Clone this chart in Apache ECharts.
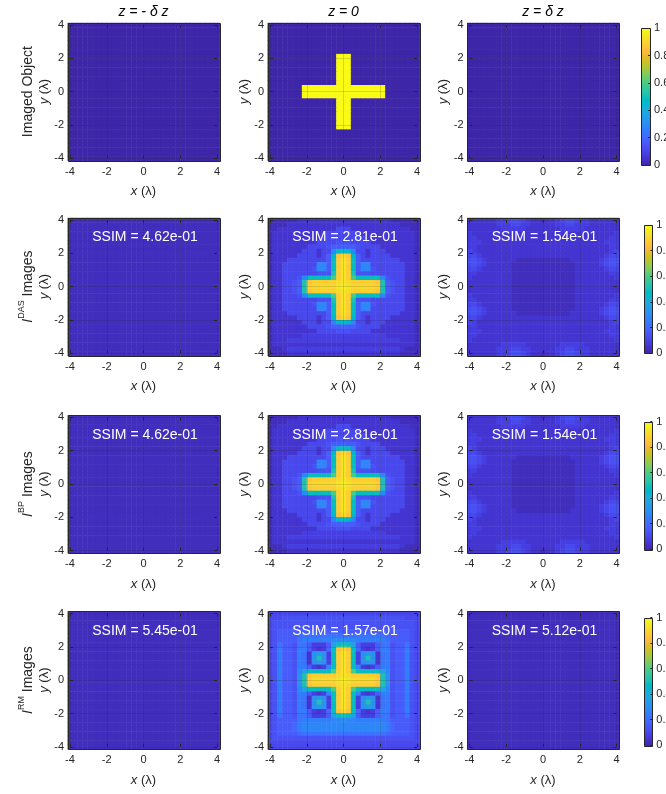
<!DOCTYPE html>
<html><head><meta charset="utf-8">
<script src="https://cdn.jsdelivr.net/npm/echarts@6.0.0/dist/echarts.min.js"></script>
<style>html,body{margin:0;padding:0;background:#fff;}#chart{width:666px;height:794px;}</style>
</head><body><div id="chart"></div>
<script>
// ---------------- DATA ----------------
const columnTitles = ['z = - δ z', 'z = 0', 'z = δ z'];
const rowLabelSup = [null, 'DAS', 'BP', 'RM'];
const ssimLabels = [
  [null, null, null],
  ['SSIM = 4.62e-01', 'SSIM = 2.81e-01', 'SSIM = 1.54e-01'],
  ['SSIM = 4.62e-01', 'SSIM = 2.81e-01', 'SSIM = 1.54e-01'],
  ['SSIM = 5.45e-01', 'SSIM = 1.57e-01', 'SSIM = 5.12e-01']
];
const axisTickValues = [-4, -2, 0, 2, 4];
const colorbarTicks = [0, 0.2, 0.4, 0.6, 0.8, 1];
// image rows, top (y=4) to bottom (y=-4); each char = level 0..z (base36) / 35
const objMinus = [
'0000000000000000000000000000000','0000000000000000000000000000000','0000000000000000000000000000000','0000000000000000000000000000000',
'0000000000000000000000000000000','0000000000000000000000000000000','0000000000000000000000000000000','0000000000000000000000000000000',
'0000000000000000000000000000000','0000000000000000000000000000000','0000000000000000000000000000000','0000000000000000000000000000000',
'0000000000000000000000000000000','0000000000000000000000000000000','0000000000000000000000000000000','0000000000000000000000000000000',
'0000000000000000000000000000000','0000000000000000000000000000000','0000000000000000000000000000000','0000000000000000000000000000000',
'0000000000000000000000000000000','0000000000000000000000000000000','0000000000000000000000000000000','0000000000000000000000000000000',
'0000000000000000000000000000000','0000000000000000000000000000000','0000000000000000000000000000000','0000000000000000000000000000000',
'0000000000000000000000000000000','0000000000000000000000000000000','0000000000000000000000000000000'];
const objZero = [
'0000000000000000000000000000000','0000000000000000000000000000000','0000000000000000000000000000000','0000000000000000000000000000000',
'0000000000000000000000000000000','0000000000000000000000000000000','0000000000000000000000000000000',
'00000000000000'+'zzz'+'00000000000000','00000000000000'+'zzz'+'00000000000000','00000000000000'+'zzz'+'00000000000000',
'00000000000000'+'zzz'+'00000000000000','00000000000000'+'zzz'+'00000000000000','00000000000000'+'zzz'+'00000000000000',
'00000000000000'+'zzz'+'00000000000000',
'0000000'+'zzzzzzzzzzzzzzzzz'+'0000000','0000000'+'zzzzzzzzzzzzzzzzz'+'0000000','0000000'+'zzzzzzzzzzzzzzzzz'+'0000000',
'00000000000000'+'zzz'+'00000000000000','00000000000000'+'zzz'+'00000000000000','00000000000000'+'zzz'+'00000000000000',
'00000000000000'+'zzz'+'00000000000000','00000000000000'+'zzz'+'00000000000000','00000000000000'+'zzz'+'00000000000000',
'00000000000000'+'zzz'+'00000000000000',
'0000000000000000000000000000000','0000000000000000000000000000000','0000000000000000000000000000000','0000000000000000000000000000000',
'0000000000000000000000000000000','0000000000000000000000000000000','0000000000000000000000000000000'];
const objPlus = [
'0000000000000000000000000000000','0000000000000000000000000000000','0000000000000000000000000000000','0000000000000000000000000000000',
'0000000000000000000000000000000','0000000000000000000000000000000','0000000000000000000000000000000','0000000000000000000000000000000',
'0000000000000000000000000000000','0000000000000000000000000000000','0000000000000000000000000000000','0000000000000000000000000000000',
'0000000000000000000000000000000','0000000000000000000000000000000','0000000000000000000000000000000','0000000000000000000000000000000',
'0000000000000000000000000000000','0000000000000000000000000000000','0000000000000000000000000000000','0000000000000000000000000000000',
'0000000000000000000000000000000','0000000000000000000000000000000','0000000000000000000000000000000','0000000000000000000000000000000',
'0000000000000000000000000000000','0000000000000000000000000000000','0000000000000000000000000000000','0000000000000000000000000000000',
'0000000000000000000000000000000','0000000000000000000000000000000','0000000000000000000000000000000'];
const dasMinus = [
'1111111111111111111111111111111','1111111111111111111111111111111','1111111111111111111111111111111','1111111111111111111111111111111',
'1111111111111111111111111111111','1111111111111111111111111111111','1111111111111111111111111111111','1111111111111111111111111111111',
'1111111111111111111111111111111','1111111111111111111111111111111','1111111111111111111111111111111','1111111111111111111111111111111',
'1111111111111111111111111111111','1111111111111111111111111111111','1111111111111111111111111111111','1111111111111111111111111111111',
'1111111111111111111111111111111','1111111111111111111111111111111','1111111111111111111111111111111','1111111111111111111111111111111',
'1111111111111111111111111111111','1111111111111111111111111111111','1111111111111111111111111111111','1111111111111111111111111111111',
'1111111111111111111111111111111','1111111111111111111111111111111','1111111111111111111111111111111','1111111111111111111111111111111',
'1111111111111111111111111111111','1111111111111111111111111111111','1111111111111111111111111111111'];
const dasZero = [
'111111222222222'+'2'+'222222222111111',
'111122222222222'+'2'+'222222222221111',
'112222222222224'+'4'+'422222222222211',
'122222222222444'+'4'+'444222222222221',
'122222222224444'+'4'+'444422222222221',
'122222222244445'+'5'+'544442222222221',
'122222224444566'+'7'+'665444422222221',
'1222222444244ag'+'h'+'ga4424442222221',
'1222224444246gu'+'w'+'ug6424444222221',
'1222444444446hv'+'x'+'vh6444444442221',
'1224444444aa6hv'+'x'+'vh6aa4444444221',
'1224444445aa6hv'+'x'+'vh6aa5444444221',
'1224444444555iv'+'x'+'vi5554444444221',
'1224445ahhhhhlv'+'x'+'vlhhhhha5444221',
'1224456iuvvvvvw'+'x'+'wvvvvvui6544221',
'1224456ivwwwwwx'+'y'+'xwwwwwvi6544221',
'1224456iuvvvvvw'+'x'+'wvvvvvui6544221',
'1224445ahhhhhlv'+'x'+'vlhhhhha5444221',
'1224444444555iv'+'x'+'vi5554444444221',
'1224444445aa6hv'+'x'+'vh6aa5444444221',
'1224444444aa6hv'+'x'+'vh6aa4444444221',
'1222444444446hv'+'x'+'vh6444444442221',
'1222224444246gu'+'w'+'ug6424444222221',
'1222222444244ag'+'h'+'ga4424442222221',
'122222224444566'+'7'+'665444422222221',
'122222222244445'+'5'+'544442222222221',
'122222233333333'+'3'+'333333332222221',
'122233333333333'+'3'+'333333333332221',
'122222222222222'+'2'+'222222222222221',
'111233333333333'+'3'+'333333333332111',
'111122222222222'+'2'+'222222222221111'];
const dasPlus = [
'222222334554322'+'1'+'223455433222222',
'222222333443322'+'2'+'223344333222222',
'222222233333222'+'2'+'222333332222222',
'322222222222222'+'2'+'222222222222223',
'332222222222222'+'2'+'222222222222233',
'333222222222222'+'2'+'222222222222333',
'332222222222222'+'2'+'222222222222233',
'432222222222222'+'2'+'222222222222234',
'443222222222222'+'2'+'222222222222344',
'554322222211111'+'1'+'111112222223455',
'554322222111111'+'1'+'111111222223455',
'443222222111111'+'1'+'111111222222344',
'332222222111111'+'1'+'111111222222233',
'322222222111111'+'1'+'111111222222223',
'222222222111111'+'1'+'111111222222222',
'222222222111111'+'1'+'111111222222222',
'222222222111111'+'1'+'111111222222222',
'322222222111111'+'1'+'111111222222223',
'332222222111111'+'1'+'111111222222233',
'443222222111111'+'1'+'111111222222344',
'554322222111111'+'1'+'111111222223455',
'554322222211111'+'1'+'111112222223455',
'443222222222222'+'2'+'222222222222344',
'432222222222222'+'2'+'222222222222234',
'332222222222222'+'2'+'222222222222233',
'333222222222222'+'2'+'222222222222333',
'332222222222222'+'2'+'222222222222233',
'322222222222222'+'2'+'222222222222223',
'222222233333222'+'2'+'222333332222222',
'222222333443322'+'2'+'223344333222222',
'222222334554322'+'1'+'223455433222222'];
// BP reconstruction looks identical to DAS in the figure
const bpMinus = dasMinus;
const bpZero = dasZero;
const bpPlus = dasPlus;
const rmMinus = dasMinus.slice();
const rmZero = [
'444444444444444'+'4'+'444444444444444',
'444555555555555'+'5'+'555555555555444',
'455555555555555'+'5'+'555555555555554',
'455555555555555'+'5'+'555555555555554',
'456666666666666'+'6'+'666666666666654',
'456666788888888'+'8'+'888888887666654',
'4566668999999aa'+'b'+'aa9999998666654',
'4586658863336dh'+'i'+'hd6333688566854',
'4596659963237hu'+'w'+'uh7323699566954',
'459665982bcb3hv'+'x'+'vh3bcb289566954',
'459665982bib3hv'+'x'+'vh3bib289566954',
'459665982bcb3hv'+'x'+'vh3bcb289566954',
'459665996323ahv'+'x'+'vha323699566954',
'459665adhhhhhlv'+'x'+'vlhhhhhda566954',
'459665biuvvvvvw'+'x'+'wvvvvvuib566954',
'459665bivwwwwwx'+'y'+'xwwwwwvib566954',
'459665biuvvvvvw'+'x'+'wvvvvvuib566954',
'459665adhhhhhlv'+'x'+'vlhhhhhda566954',
'459665996323ahv'+'x'+'vha323699566954',
'459665982bcb3hv'+'x'+'vh3bcb289566954',
'459665982bib3hv'+'x'+'vh3bib289566954',
'459665982bcb3hv'+'x'+'vh3bcb289566954',
'4596659963237hu'+'w'+'uh7323699566954',
'4586658863336dh'+'i'+'hd6333688566854',
'4566668999999aa'+'b'+'aa9999998666654',
'4566679aaaaaaaa'+'a'+'aaaaaaaa9766654',
'4566679aaaaaaaa'+'a'+'aaaaaaaa9766654',
'456666788888888'+'8'+'888888887666654',
'455555555555555'+'5'+'555555555555554',
'444444444444444'+'4'+'444444444444444',
'344444444444444'+'4'+'444444444444443'];
const rmPlus = dasMinus.slice();

// ---------------- STYLE / LAYOUT ----------------
const FONT = '"Liberation Sans", Arial, Helvetica, sans-serif';
const TXT = '#262626';
const N = 31, STEP = 8 / 30, HALF = STEP / 2, EXT = 4 + HALF;
const COL_LEFT = [70, 270, 469.5], PW = 147;
const ROW_TOP = [25, 220, 417.4, 613.5], PH = 133.3;
const CB = [
  {left: 640.7, top: 28.3, width: 9.3, height: 136.7},
  {left: 644.3, top: 225, width: 8, height: 128.3},
  {left: 644.3, top: 421.5, width: 8, height: 127.5},
  {left: 644.3, top: 617.5, width: 8, height: 127.5}
];
const PARULA = [
[0.2422,0.1504,0.6603],[0.2504,0.1650,0.7076],[0.2578,0.1818,0.7511],[0.2647,0.1978,0.7952],[0.2706,0.2147,0.8364],[0.2751,0.2342,0.8710],
[0.2783,0.2559,0.8991],[0.2803,0.2782,0.9221],[0.2813,0.3006,0.9414],[0.2810,0.3228,0.9579],[0.2795,0.3447,0.9717],[0.2760,0.3667,0.9829],
[0.2699,0.3892,0.9906],[0.2602,0.4123,0.9952],[0.2440,0.4358,0.9988],[0.2206,0.4603,0.9973],[0.1963,0.4847,0.9892],[0.1834,0.5074,0.9798],
[0.1786,0.5289,0.9682],[0.1764,0.5499,0.9520],[0.1687,0.5703,0.9359],[0.1540,0.5902,0.9218],[0.1460,0.6091,0.9079],[0.1380,0.6276,0.8973],
[0.1248,0.6459,0.8883],[0.1113,0.6635,0.8763],[0.0952,0.6798,0.8598],[0.0689,0.6948,0.8394],[0.0297,0.7082,0.8163],[0.0036,0.7203,0.7917],
[0.0067,0.7312,0.7660],[0.0433,0.7411,0.7394],[0.0964,0.7500,0.7120],[0.1408,0.7584,0.6842],[0.1717,0.7670,0.6554],[0.1938,0.7758,0.6251],
[0.2161,0.7843,0.5923],[0.2470,0.7918,0.5567],[0.2906,0.7973,0.5188],[0.3406,0.8008,0.4789],[0.3909,0.8029,0.4354],[0.4456,0.8024,0.3909],
[0.5044,0.7993,0.3480],[0.5616,0.7942,0.3045],[0.6174,0.7876,0.2612],[0.6720,0.7793,0.2227],[0.7242,0.7698,0.1910],[0.7738,0.7598,0.1646],
[0.8203,0.7498,0.1535],[0.8634,0.7406,0.1596],[0.9035,0.7330,0.1774],[0.9393,0.7288,0.2100],[0.9728,0.7298,0.2394],[0.9956,0.7434,0.2371],
[0.9970,0.7659,0.2199],[0.9952,0.7893,0.2028],[0.9892,0.8136,0.1885],[0.9786,0.8386,0.1766],[0.9676,0.8639,0.1643],[0.9610,0.8890,0.1537],
[0.9597,0.9135,0.1423],[0.9628,0.9373,0.1265],[0.9691,0.9606,0.1064],[0.9769,0.9839,0.0805]];
function parula(v) {
  v = Math.max(0, Math.min(1, v));
  const p = v * (PARULA.length - 1);
  const i = Math.min(PARULA.length - 2, Math.floor(p));
  const t = p - i, a = PARULA[i], b = PARULA[i + 1];
  const c = k => Math.round(255 * (a[k] + (b[k] - a[k]) * t));
  return 'rgb(' + c(0) + ',' + c(1) + ',' + c(2) + ')';
}
function decode(rows) {
  const out = [];
  rows.forEach((row, j) => {
    for (let i = 0; i < N; i++) {
      const ch = row[i] !== undefined ? row[i] : row[row.length - 1];
      out.push([-4 + i * STEP, 4 - j * STEP, parseInt(ch, 36) / 35]);
    }
  });
  return out;
}
const panels = [
  [objMinus, objZero, objPlus],
  [dasMinus, dasZero, dasPlus],
  [bpMinus, bpZero, bpPlus],
  [rmMinus, rmZero, rmPlus]
];

function heatItem(params, api) {
  const x = api.value(0), y = api.value(1), v = api.value(2);
  const a = api.coord([x - HALF, y + HALF]);
  const b = api.coord([x + HALF, y - HALF]);
  return {type: 'rect', shape: {x: a[0], y: a[1], width: b[0] - a[0] + 0.5, height: b[1] - a[1] + 0.5},
          style: {fill: parula(v)}};
}
function frameItem(params, api) {
  const a = api.coord([-EXT, EXT]);
  const b = api.coord([EXT, -EXT]);
  return {type: 'rect', shape: {x: Math.round(a[0]) + 0.5, y: Math.round(a[1]) + 0.5,
          width: Math.round(b[0] - a[0]), height: Math.round(b[1] - a[1])},
          style: {fill: 'none', stroke: TXT, lineWidth: 1}};
}
const cbStops = PARULA.map((c, k) => ({offset: k / (PARULA.length - 1), color: parula(k / (PARULA.length - 1))}));
function cbItem(params, api) {
  const a = api.coord([0, 1]);
  const b = api.coord([1, 0]);
  const shape = {x: Math.round(a[0]) + 0.5, y: Math.round(a[1]) + 0.5, width: Math.round(b[0] - a[0]), height: Math.round(b[1] - a[1])};
  return {type: 'group', children: [
    {type: 'rect', shape: shape, style: {fill: new echarts.graphic.LinearGradient(0, 1, 0, 0, cbStops)}},
    {type: 'rect', shape: shape, style: {fill: 'none', stroke: TXT, lineWidth: 1}}
  ]};
}

const grids = [], xAxes = [], yAxes = [], series = [], graphics = [];
const tickStyle = {inside: true, length: 3, lineStyle: {color: TXT, width: 1}};
const gridLine = {show: true, lineStyle: {color: 'rgba(38,38,38,0.16)', width: 1}};
const noLine = {show: false, onZero: false};
panels.forEach((row, r) => row.forEach((rows, c) => {
  const gi = grids.length;
  grids.push({left: COL_LEFT[c], top: ROW_TOP[r], width: PW, height: PH, outerBoundsMode: 'none', containLabel: false});
  const xi = xAxes.length;
  xAxes.push({gridIndex: gi, type: 'value', min: axisTickValues[0], max: axisTickValues[4], interval: 2, position: 'bottom', z: 3,
    axisLine: noLine, axisTick: tickStyle, splitLine: gridLine,
    axisLabel: {fontSize: 11, color: TXT, fontFamily: FONT, margin: 8}});
  xAxes.push({gridIndex: gi, type: 'value', min: -4, max: 4, interval: 2, position: 'top', z: 3,
    axisLine: noLine, axisTick: tickStyle, splitLine: {show: false}, axisLabel: {show: false}});
  const yi = yAxes.length;
  yAxes.push({gridIndex: gi, type: 'value', min: axisTickValues[0], max: axisTickValues[4], interval: 2, position: 'left', z: 3,
    axisLine: noLine, axisTick: tickStyle, splitLine: gridLine,
    axisLabel: {fontSize: 11, color: TXT, fontFamily: FONT, margin: 6}});
  yAxes.push({gridIndex: gi, type: 'value', min: -4, max: 4, interval: 2, position: 'right', z: 3,
    axisLine: noLine, axisTick: tickStyle, splitLine: {show: false}, axisLabel: {show: false}});
  series.push({type: 'custom', xAxisIndex: xi, yAxisIndex: yi, data: decode(rows), renderItem: heatItem,
    clip: false, z: 1, silent: true, progressive: 0});
  series.push({type: 'custom', xAxisIndex: xi, yAxisIndex: yi, data: [[0, 0]], renderItem: frameItem,
    clip: false, z: 5, silent: true});
  const cx = COL_LEFT[c] + PW / 2, cy = ROW_TOP[r] + PH / 2;
  graphics.push({type: 'text', x: cx, y: ROW_TOP[r] + PH + 33.5, silent: true,
    style: {text: '{i|x} (λ)', align: 'center', verticalAlign: 'middle', font: '13px ' + FONT, fill: TXT,
      rich: {i: {fontStyle: 'italic', fontSize: 13, fontFamily: FONT, fill: TXT}}}});
  graphics.push({type: 'text', x: COL_LEFT[c] - 26, y: cy, rotation: Math.PI / 2, silent: true,
    style: {text: '{i|y} (λ)', align: 'center', verticalAlign: 'middle', font: '13px ' + FONT, fill: TXT,
      rich: {i: {fontStyle: 'italic', fontSize: 13, fontFamily: FONT, fill: TXT}}}});
  if (ssimLabels[r][c]) {
    graphics.push({type: 'text', x: cx + 1.5, y: ROW_TOP[r] + 17.5, silent: true, z: 10,
      style: {text: ssimLabels[r][c], align: 'center', verticalAlign: 'middle', font: '14px ' + FONT, fill: '#ffffff'}});
  }
}));
CB.forEach((cb, r) => {
  const gi = grids.length;
  grids.push(Object.assign({outerBoundsMode: 'none', containLabel: false}, cb));
  const xi = xAxes.length, yi = yAxes.length;
  xAxes.push({gridIndex: gi, type: 'value', min: 0, max: 1, show: false});
  yAxes.push({gridIndex: gi, type: 'value', min: colorbarTicks[0], max: colorbarTicks[5], interval: 0.2, position: 'right', z: 3,
    axisLine: noLine, axisTick: {inside: true, length: 2, lineStyle: {color: TXT}}, splitLine: {show: false},
    axisLabel: {fontSize: 11, color: TXT, fontFamily: FONT, margin: 4, formatter: v => String(+v.toFixed(1))}});
  series.push({type: 'custom', xAxisIndex: xi, yAxisIndex: yi, data: [[0, 0]], renderItem: cbItem, clip: false, z: 1, silent: true});
});
columnTitles.forEach((t, c) => {
  graphics.push({type: 'text', x: COL_LEFT[c] + PW / 2, y: 12, silent: true,
    style: {text: t, align: 'center', verticalAlign: 'middle', font: 'italic 14px ' + FONT, fill: '#000'}});
});
rowLabelSup.forEach((sup, r) => {
  const cy = ROW_TOP[r] + PH / 2;
  const text = sup ? '{it|I}{sup|' + sup + '}{n| Images}' : '{n|Imaged Object}';
  graphics.push({type: 'text', x: 26, y: cy, rotation: Math.PI / 2, silent: true,
    style: {text: text, align: 'center', verticalAlign: 'middle', font: '14px ' + FONT, fill: TXT,
      rich: {
        it: {fontStyle: 'italic', fontSize: 14, fontFamily: FONT, fill: TXT, lineHeight: 18, verticalAlign: 'bottom'},
        sup: {fontSize: 9, fontFamily: FONT, fill: TXT, lineHeight: 18, verticalAlign: 'top'},
        n: {fontSize: 14, fontFamily: FONT, fill: TXT, lineHeight: 18, verticalAlign: 'bottom'}
      }}});
});

const chart = echarts.init(document.getElementById('chart'), null, {renderer: 'canvas'});
chart.setOption({
  animation: false,
  backgroundColor: '#ffffff',
  grid: grids, xAxis: xAxes, yAxis: yAxes, series: series, graphic: graphics
});
</script></body></html>
